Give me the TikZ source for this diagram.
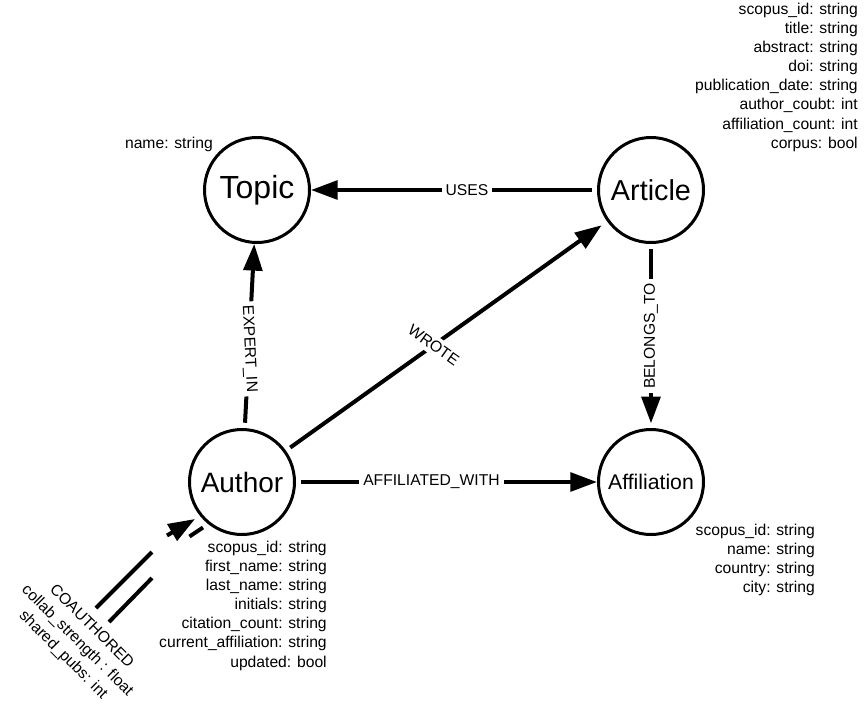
\documentclass[tikz,border=0pt]{standalone}
\usepackage{fontspec}
\setmainfont{Liberation Sans}
\usetikzlibrary{arrows.meta}

\tikzset{
  entity/.style={circle, draw, line width=2.25pt, minimum size=78.75pt, inner sep=0pt},
  rel/.style={line width=3pt, -{Triangle[length=20pt,width=14pt]}, shorten <=4pt},
  rellabel/.style={fill=white, inner sep=3pt, font=\fontsize{11.75}{14}\selectfont},
  props/.style={anchor=north east, align=right, inner sep=0pt, font=\fontsize{11.75}{14.3}\selectfont},
}

\begin{document}
\begin{tikzpicture}[x=0.75pt,y=0.75pt,yscale=-1,xscale=1]
	\useasboundingbox (0,0) rectangle (865,719);
	% entities
	\node [entity, font=\fontsize{24}{28}\selectfont] (topic) at (257,190) {Topic};
	\node [entity, font=\fontsize{21.6}{26}\selectfont] (article) at (651,190) {Article};
	\node [entity, font=\fontsize{21}{25}\selectfont] (author) at (242,482) {Author};
	\node [entity, font=\fontsize{15.9}{19}\selectfont] (affiliation) at (651,482) {Affiliation};
	% relations
	\draw [rel] (article) -- node [rellabel, pos=0.455] (uses) {USES} (topic);
	\draw [rel] (author) -- node [rellabel, pos=0.43, sloped] (expertin) {EXPERT\_IN} (topic);
	\draw [rel, shorten >=5pt] (author) -- node [rellabel, pos=0.46, sloped] (wrote) {WROTE} (article);
	\draw [rel, shorten >=3.5pt] (article) -- node [rellabel, pos=0.5, rotate=90] (belongsto) {BELONGS\_TO} (affiliation);
	\draw [rel] (author) -- node [rellabel, pos=0.45] (affiliatedwith) {AFFILIATED\_WITH} (affiliation);
	% coauthored (self loop)
	\coordinate (coa1) at (96,608);
	\coordinate (coa2) at (152,552);
	\coordinate (coa3) at (167,535.5);
	\coordinate (coa4) at (195,519);
	\coordinate (cob1) at (109,622);
	\coordinate (cob2) at (152,578);
	\coordinate (cob3) at (189.5,536.5);
	\coordinate (cob4) at (203,527.5);
	\draw [line width=3pt] (coa1) -- (coa2);
	\draw [line width=3pt, -{Triangle[length=20pt,width=14pt]}] (coa3) -- (coa4);
	\draw [line width=3pt] (cob1) -- (cob2);
	\draw [line width=3pt] (cob3) -- (cob4);
	\node [rotate=-45, align=center, inner sep=0pt, font=\fontsize{11.75}{15}\selectfont] (coauthored) at (77,641) {COAUTHORED\\collab\_strength : float\\shared\_pubs: int};
	% properties
	\node [props] (topicprops) at (213,136.5) {name: string};
	\node [props] (articleprops) at (858,3) {scopus\_id: string\\title: string\\abstract: string\\doi: string\\publication\_date: string\\author\_coubt: int\\affiliation\_count: int\\corpus: bool};
	\node [props] (authorprops) at (327,541) {scopus\_id: string\\first\_name: string\\last\_name: string\\initials: string\\citation\_count: string\\current\_affiliation: string\\updated: bool};
	\node [props] (affiliationprops) at (815,524) {scopus\_id: string\\name: string\\country: string\\city: string};
\end{tikzpicture}
\end{document}
